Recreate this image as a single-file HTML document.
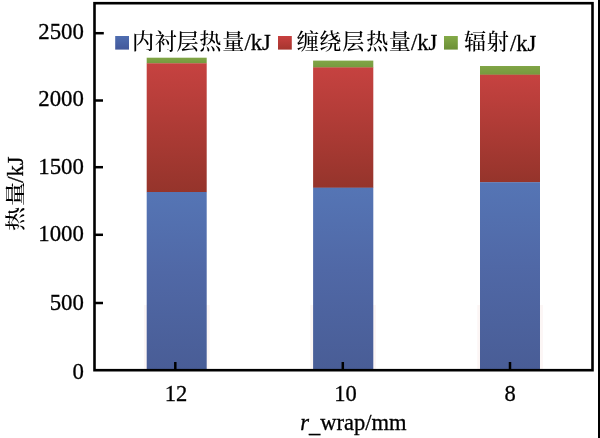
<!DOCTYPE html>
<html lang="zh">
<head>
<meta charset="utf-8">
<title>热量 r_wrap</title>
<style>
html,body{margin:0;padding:0;background:#fff;}
body{width:600px;height:438px;overflow:hidden;}
svg{display:block;}
text{font-family:"Liberation Serif","Noto Serif CJK SC",serif;font-size:22.5px;font-weight:500;fill:#000;}
.c{font-size:21.3px;text-anchor:middle;}
.yl text{font-size:22.8px;}
.l{stroke:#000;stroke-width:0.3px;}
</style>
</head>
<body>
<svg width="600" height="438" viewBox="0 0 600 438">
<defs>
<linearGradient id="gb" x1="0" y1="0" x2="0" y2="1">
<stop offset="0" stop-color="#5575b5"/>
<stop offset="0.45" stop-color="#5068a6"/>
<stop offset="1" stop-color="#495d96"/>
</linearGradient>
<linearGradient id="gr" x1="0" y1="0" x2="0" y2="1">
<stop offset="0" stop-color="#c64240"/>
<stop offset="1" stop-color="#95342b"/>
</linearGradient>
<linearGradient id="gg" x1="0" y1="0" x2="0" y2="1">
<stop offset="0" stop-color="#80a546"/>
<stop offset="1" stop-color="#76993e"/>
</linearGradient>
<linearGradient id="lb" x1="0" y1="0" x2="0" y2="1">
<stop offset="0" stop-color="#4f6db0"/>
<stop offset="1" stop-color="#42589a"/>
</linearGradient>
<linearGradient id="lr" x1="0" y1="0" x2="0" y2="1">
<stop offset="0" stop-color="#c8403f"/>
<stop offset="1" stop-color="#a5352e"/>
</linearGradient>
<linearGradient id="lg" x1="0" y1="0" x2="0" y2="1">
<stop offset="0" stop-color="#84aa48"/>
<stop offset="1" stop-color="#6b8f36"/>
</linearGradient>
</defs>
<rect x="0" y="0" width="600" height="438" fill="#fff"/>
<!-- right edge line -->
<rect x="598" y="0" width="2" height="438" fill="#000"/>

<!-- bars -->
<g>
<rect x="144" y="305" width="65.6" height="65" fill="#fcf6f5"/>
<rect x="310.4" y="305" width="65.6" height="65" fill="#fcf6f5"/>
<rect x="477.3" y="305" width="65.6" height="65" fill="#fcf6f5"/>
<rect x="146.7" y="57.7" width="60" height="5.8" fill="url(#gg)"/>
<rect x="146.7" y="63.3" width="60" height="128.9" fill="url(#gr)"/>
<rect x="146.7" y="192" width="60" height="178" fill="url(#gb)"/>

<rect x="313.1" y="60.6" width="60.2" height="7.1" fill="url(#gg)"/>
<rect x="313.1" y="67.4" width="60.2" height="120.5" fill="url(#gr)"/>
<rect x="313.1" y="187.7" width="60.2" height="182" fill="url(#gb)"/>

<rect x="480" y="66" width="60" height="8.9" fill="url(#gg)"/>
<rect x="480" y="74.7" width="60" height="107.7" fill="url(#gr)"/>
<rect x="480" y="182.2" width="60" height="188" fill="url(#gb)"/>
</g>

<!-- frame -->
<rect x="94.5" y="3.2" width="498" height="367" fill="none" stroke="#000" stroke-width="2.6"/>
<!-- y ticks -->
<g stroke="#000" stroke-width="2.5">
<line x1="95" y1="33.2" x2="103.8" y2="33.2"/>
<line x1="95" y1="100.5" x2="103" y2="100.5"/>
<line x1="95" y1="167.2" x2="103" y2="167.2"/>
<line x1="95" y1="234.8" x2="103" y2="234.8"/>
<line x1="95" y1="303" x2="103" y2="303"/>
<line x1="175.3" y1="362" x2="175.3" y2="370"/>
<line x1="342.8" y1="362" x2="342.8" y2="370"/>
<line x1="510" y1="362" x2="510" y2="370"/>
</g>
<!-- y labels -->
<g text-anchor="end" class="l yl">
<text x="83.9" y="39">2500</text>
<text x="83.9" y="106.3">2000</text>
<text x="83.9" y="174.2">1500</text>
<text x="83.9" y="241.4">1000</text>
<text x="83.9" y="310.4">500</text>
<text x="83.9" y="378.6">0</text>
</g>
<!-- x labels -->
<g text-anchor="middle" class="l">
<text x="176" y="401.3">12</text>
<text x="345.5" y="401.3">10</text>
<text x="510" y="401.3">8</text>
</g>
<text x="300.3" y="430" class="l"><tspan font-style="italic">r</tspan><tspan dy="2.3">_</tspan><tspan dy="-2.3">wrap/mm</tspan></text>
<!-- y title -->
<text transform="translate(22.6,0) rotate(-90) scale(1.18,1)" style="font-size:20.5px" text-anchor="middle" y="0" x="-185.55 -164.4">热量</text>
<text class="l" transform="translate(23.3,182.7) rotate(-90)" x="0" y="0">/kJ</text>
<!-- legend -->
<rect x="115.2" y="36" width="13.8" height="13.6" fill="url(#lb)"/>
<text class="c" transform="scale(1.04,1)" y="49.2" x="137.50 159.52 180.38 202.31 224.42">内衬层热量</text>
<text class="l" x="244.6" y="50">/kJ</text>
<rect x="278" y="36" width="13.8" height="13.6" fill="url(#lr)"/>
<text class="c" transform="scale(1.04,1)" y="49.2" x="296.06 317.69 339.71 362.88 384.52">缠绕层热量</text>
<text class="l" x="411.1" y="50.4">/kJ</text>
<rect x="444" y="36" width="13.8" height="13.6" fill="url(#lg)"/>
<text class="c" transform="scale(1.04,1)" y="49.2" x="456.73 478.65">辐射</text>
<text class="l" x="510.1" y="50.7">/kJ</text>
</svg>
</body>
</html>
